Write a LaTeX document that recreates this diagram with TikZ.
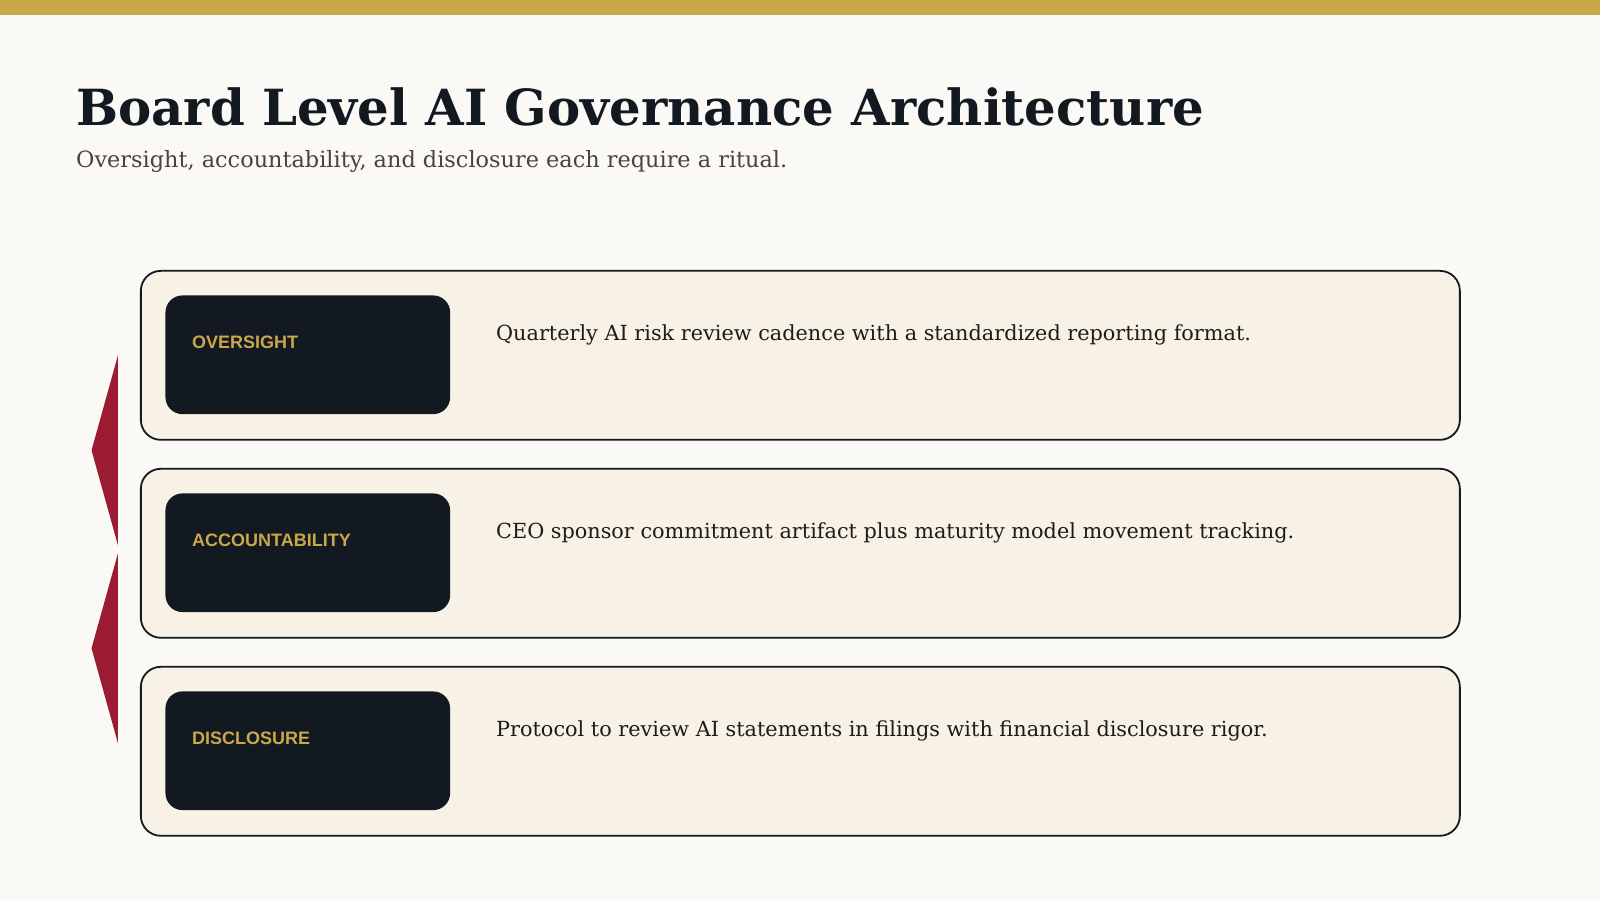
\documentclass[tikz,border=0pt]{standalone}
\usepackage{fontspec}
\usepackage{xcolor}
\usepackage{tikz}
\usetikzlibrary{calc,positioning}
\setmainfont{DejaVu Serif}
\newfontfamily\tagfont{Liberation Sans}
\definecolor{paper}{HTML}{FAF9F5}
\definecolor{gold}{HTML}{C9A74A}
\definecolor{ink}{HTML}{121920}
\definecolor{cream}{HTML}{F8F1E6}
\definecolor{crimson}{HTML}{9B1B30}
\definecolor{muted}{HTML}{4A423B}
\definecolor{body}{HTML}{1E1B18}
\tikzset{
  card/.style={draw=ink, fill=cream, line width=1.8pt, rounded corners=20pt,
    minimum width=1319pt, minimum height=169pt, inner sep=0pt},
  tag/.style={fill=ink, rounded corners=17pt, minimum width=284.7pt,
    minimum height=118.7pt, inner sep=0pt, anchor=north west},
  lab/.style={text=gold, font=\tagfont\fontsize{18}{18}\selectfont\bfseries,
    inner sep=0pt, anchor=base west},
  desc/.style={text=body, font=\fontsize{20.8}{24}\selectfont,
    inner sep=0pt, anchor=base west},
  chev/.style={fill=crimson},
}

\begin{document}
\begin{tikzpicture}[x=1pt,y=1pt]
  \useasboundingbox (0,0) rectangle (1600,900);
  \fill[paper] (0,0) rectangle (1600,900);
  \fill[gold] (0,885) rectangle (1600,900);

  \node[inner sep=0pt, anchor=base west, text=ink,
    font=\fontsize{49.8}{54}\selectfont\bfseries] (title) at (76,774)
    {Board Level AI Governance Architecture};
  \node[inner sep=0pt, anchor=base west, text=muted,
    font=\fontsize{22.4}{26}\selectfont] (sub) at (76,732)
    {Oversight, accountability, and disclosure each require a ritual.};

  % three rituals
  \node[card] (over) at (800.35,544.65) {};
  \node[card] (acc)  at (800.35,346.7) {};
  \node[card] (disc) at (800.35,148.7) {};

  \foreach \c/\name/\txt in {
    over/OVERSIGHT/{Quarterly AI risk review cadence with a standardized reporting format.},
    acc/ACCOUNTABILITY/{CEO sponsor commitment artifact plus maturity model movement tracking.},
    disc/DISCLOSURE/{Protocol to review AI statements in filings with financial disclosure rigor.}} {
    \node[tag] (\c tag) at ([shift={(25.3,-25.3)}]\c.north west) {};
    \node[lab] (\c lab) at ([shift={(26.7,-53)}]\c tag.north west) {\name};
    \node[desc] (\c txt) at ([shift={(356,-70.3)}]\c.north west) {\txt};
  }

  % chevrons between the rows
  \foreach \a/\b in {over/acc, acc/disc} {
    \fill[chev] ([xshift=-22pt]\a.west)
      -- ($([xshift=-48.4pt]\a.west)!0.5!([xshift=-48.4pt,yshift=8pt]\b.west)$)
      -- ([xshift=-22pt,yshift=8pt]\b.west) -- cycle;
  }
\end{tikzpicture}
\end{document}
